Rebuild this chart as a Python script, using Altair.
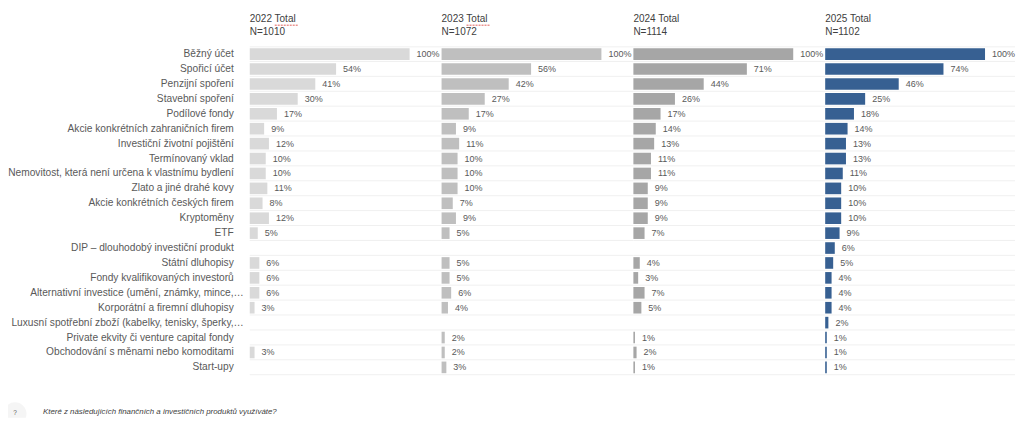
import altair as alt
import pandas as pd

rows = ["Běžný účet", "Spořicí účet", "Penzijní spoření", "Stavební spoření", "Podílové fondy",
        "Akcie konkrétních zahraničních firem", "Investiční životní pojištění", "Termínovaný vklad",
        "Nemovitost, která není určena k vlastnímu bydlení", "Zlato a jiné drahé kovy",
        "Akcie konkrétních českých firem", "Kryptoměny", "ETF", "DIP – dlouhodobý investiční produkt",
        "Státní dluhopisy", "Fondy kvalifikovaných investorů", "Alternativní investice (umění, známky, mince,…",
        "Korporátní a firemní dluhopisy", "Luxusní spotřební zboží (kabelky, tenisky, šperky,…",
        "Private ekvity či venture capital fondy", "Obchodování s měnami nebo komoditami", "Start-upy"]
v2022 = [100, 54, 41, 30, 17, 9, 12, 10, 10, 11, 8, 12, 5, None, 6, 6, 6, 3, None, None, 3, None]
v2023 = [100, 56, 42, 27, 17, 9, 11, 10, 10, 10, 7, 9, 5, None, 5, 5, 6, 4, None, 2, 2, 3]
v2024 = [100, 71, 44, 26, 17, 14, 13, 11, 11, 9, 9, 9, 7, None, 4, 3, 7, 5, None, 1, 2, 1]
v2025 = [100, 74, 46, 25, 18, 14, 13, 13, 11, 10, 10, 10, 9, 6, 5, 4, 4, 4, 2, 1, 1, 1]
panels = [("2022 Total", "N=1010", v2022, "#d9d9d9", 192), ("2023 Total", "N=1072", v2023, "#bfbfbf", 192),
          ("2024 Total", "N=1114", v2024, "#a6a6a6", 192), ("2025 Total", "N=1102", v2025, "#376092", 190)]
question = "Které z následujících finančních a investičních produktů využíváte?"

FONT = "Liberation Sans"
PH = 410
yscale = alt.Scale(domain=rows, range=[38.5, 367], paddingInner=0.22, paddingOuter=0.11)
yenc = alt.Y("row:N", sort=rows, axis=None, scale=yscale)


def panel(head, n, vals, color, pw, squiggle):
    xscale = alt.Scale(domain=[0, 120 * pw / 192], nice=False, zero=True)
    df = pd.DataFrame({"row": rows, "value": vals,
                       "label": [f"{v}%" if v is not None else "" for v in vals]})
    base = alt.Chart(df)
    rules = base.mark_rule(color="#f0f0f0", strokeWidth=1, yOffset=1.5).encode(
        y=alt.Y("row:N", sort=rows, axis=None, bandPosition=1, scale=yscale))
    top = alt.Chart(df.head(1)).mark_rule(color="#f0f0f0", strokeWidth=1, yOffset=-1.5).encode(
        y=alt.Y("row:N", sort=rows, axis=None, bandPosition=0, scale=yscale))
    bars = base.transform_filter("isValid(datum.value)").mark_bar(color=color).encode(
        x=alt.X("value:Q", axis=None, scale=xscale), y=yenc)
    labels = base.transform_filter("isValid(datum.value)").mark_text(
        align="left", baseline="middle", dx=7, font=FONT, fontSize=9, color="#595959").encode(
        x=alt.X("value:Q", axis=None, scale=xscale), y=yenc, text="label:N")
    hdf = pd.DataFrame({"t": [head, n], "ypos": [11, 24]})
    heads = alt.Chart(hdf).mark_text(
        align="left", baseline="middle", font=FONT, fontSize=10, color="#404040").encode(
        x=alt.value(0), y=alt.Y("ypos:Q", scale=None, axis=None), text="t:N")
    layers = [rules, top, bars, labels, heads]
    if squiggle:
        layers.append(alt.Chart(df.head(1)).mark_rule(color="#e0605a", strokeWidth=1, strokeDash=[2, 1]).encode(
            x=alt.value(25), x2=alt.value(48), y=alt.value(17)))
    return alt.layer(*layers).properties(width=pw, height=PH)


ldf = pd.DataFrame({"row": rows})
ldf["cut"] = [r.endswith("…") for r in rows]
lab_plain = alt.Chart(ldf).transform_filter("!datum.cut").mark_text(
    align="right", baseline="middle", font=FONT, fontSize=10.2, color="#595959").encode(
    x=alt.value(226), y=yenc, text="row:N")
lab_cut = alt.Chart(ldf).transform_filter("datum.cut").mark_text(
    align="right", baseline="middle", font=FONT, fontSize=10.2, color="#595959").encode(
    x=alt.value(236), y=yenc, text="row:N")
circle = alt.Chart(pd.DataFrame({"q": ["?"]})).mark_point(
    filled=True, color="#f5f5f5", size=530, opacity=1, shape="circle", clip=True).encode(
    x=alt.value(7), y=alt.value(406))
qmark = alt.Chart(pd.DataFrame({"q": ["?"]})).mark_text(
    font=FONT, fontSize=6.5, color="#595959").encode(x=alt.value(7), y=alt.value(405), text="q:N")
qtext = alt.Chart(pd.DataFrame({"q": [question]})).mark_text(
    align="left", font=FONT, fontSize=7.9, fontStyle="italic", color="#404040").encode(
    x=alt.value(35), y=alt.value(404), text="q:N")
left = alt.layer(lab_plain, lab_cut, circle, qmark, qtext).properties(width=242, height=PH)

chart = alt.hconcat(left, *[panel(h, n, v, c, w, i < 2) for i, (h, n, v, c, w) in enumerate(panels)],
                    spacing=0, padding=0, bounds="flush").configure_view(stroke=None).properties(
    background="white")
chart.save("out.html", embed_options={"renderer": "svg", "actions": False})
